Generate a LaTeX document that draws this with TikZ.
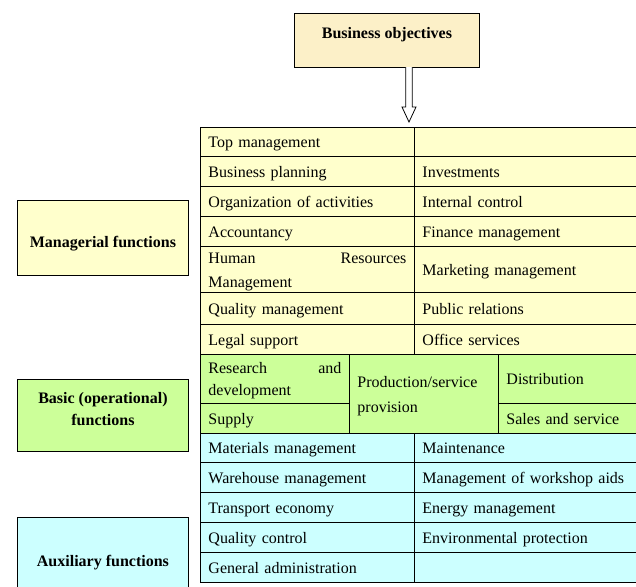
\documentclass[tikz,border=0pt]{standalone}
\usepackage{fontspec}
\setmainfont{Liberation Serif}
\usetikzlibrary{positioning}

\definecolor{tanbox}{HTML}{FCF0C8}
\definecolor{ylw}{HTML}{FFFFCC}
\definecolor{grn}{HTML}{CCFF99}
\definecolor{cyn}{HTML}{CCFFFF}

\tikzset{
  cell/.style={draw, line width=0.9pt, anchor=north west, inner xsep=8pt, inner ysep=0pt,
    align=left, font=\fontsize{16}{22}\selectfont, text height=13pt, text depth=1pt},
  twoline/.style={text depth=#1},
  ycell/.style={cell, fill=ylw},
  gcell/.style={cell, fill=grn},
  ccell/.style={cell, fill=cyn},
  sidebox/.style={draw, line width=0.9pt, anchor=north west},
  title/.style={font=\fontsize{16}{22}\selectfont\bfseries, align=center}
}

\begin{document}
\begin{tikzpicture}[x=1pt, y=-1pt]
    \useasboundingbox (0,0) rectangle (636,586);

    % objectives and arrow
    \node[sidebox, fill=tanbox, minimum width=185pt, minimum height=54pt] (obj) at (294,13) {};
    \node[title] (objtxt) at ([yshift=6pt]obj.center) {Business objectives};
    \coordinate (atop) at (409,67);
    \coordinate (atip) at (409,122);
    \draw[line width=0.8pt, fill=white] ([xshift=-3.3pt]atop) -- ([xshift=-3.3pt,yshift=15pt]atip)
        -- ([xshift=-7pt,yshift=15pt]atip) -- (atip) -- ([xshift=7pt,yshift=15pt]atip)
        -- ([xshift=3.3pt,yshift=15pt]atip) -- ([xshift=3.3pt]atop);

    % managerial functions
    \foreach \y/\h/\l/\r [count=\i] in {
        127/29/{Top management}/{},
        156/30/{Business planning}/{Investments},
        186/30/{Organization of activities}/{Internal control},
        216/30/{Accountancy}/{Finance management},
        292/32/{Quality management}/{Public relations},
        324/30/{Legal support}/{Office services}}
    {
        \node[ycell, text width=198pt, minimum height=\h pt] (ml\i) at (200,\y) {\l};
        \node[ycell, text width=208pt, minimum height=\h pt] (mr\i) at (414,\y) {\r};
    }
    \node[ycell, text width=198pt, minimum height=46pt, twoline=25pt,
        font=\fontsize{16}{24}\selectfont] (hrm) at (200,246) {Human\hfill Resources\\Management};
    \node[ycell, text width=208pt, minimum height=46pt] (mkt) at (414,246) {Marketing management};

    % basic functions
    \node[gcell, text width=133pt, minimum height=49pt, twoline=23pt] (rd) at (200,354) {Research\hfill and\\development};
    \node[gcell, text width=133pt, minimum height=30pt] (supply) at (200,403) {Supply};
    \node[gcell, text width=133pt, minimum height=79pt, twoline=26pt,
        font=\fontsize{16}{25}\selectfont] (prod) at (349,354) {Production/service\\provision};
    \node[gcell, text width=124pt, minimum height=49pt] (distr) at (498,354) {Distribution};
    \node[gcell, text width=124pt, minimum height=30pt] (sales) at (498,403) {Sales and service};

    % auxiliary functions
    \foreach \y/\h/\l/\r [count=\i] in {
        433/29/{Materials management}/{Maintenance},
        462/30/{Warehouse management}/{Management of workshop aids},
        492/30/{Transport economy}/{Energy management},
        522/30/{Quality control}/{Environmental protection},
        552/30/{General administration}/{}}
    {
        \node[ccell, text width=198pt, minimum height=\h pt] (al\i) at (200,\y) {\l};
        \node[ccell, text width=208pt, minimum height=\h pt] (ar\i) at (414,\y) {\r};
    }

    % side boxes
    \node[sidebox, fill=ylw, minimum width=171pt, minimum height=75pt] (mgr) at (17,200) {};
    \node[title] (mgrtxt) at ([yshift=-6pt]mgr.center) {Managerial functions};
    \node[sidebox, fill=grn, minimum width=171pt, minimum height=72pt] (basic) at (17,379) {};
    \node[title] (basictxt) at ([yshift=6pt]basic.center) {Basic (operational)\\functions};
    \node[sidebox, fill=cyn, minimum width=171pt, minimum height=75pt] (aux) at (17,517) {};
    \node[title] (auxtxt) at ([yshift=-8pt]aux.center) {Auxiliary functions};
\end{tikzpicture}
\end{document}
